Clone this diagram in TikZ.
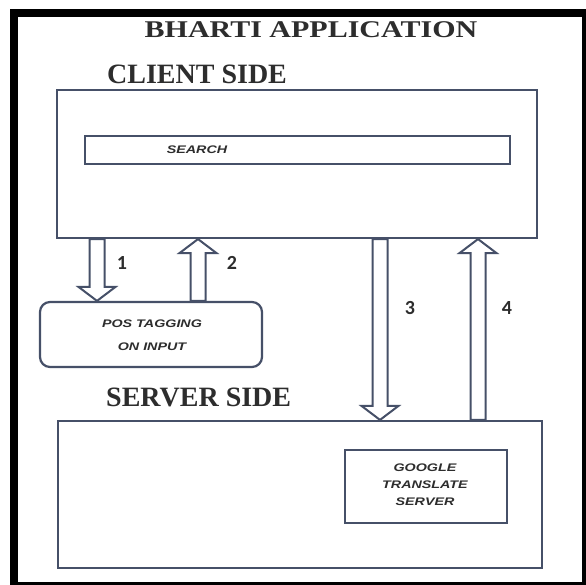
\documentclass[tikz,border=0pt]{standalone}
\usepackage{fontspec}
\setmainfont{Liberation Serif}
\newfontfamily\tagfont[FakeStretch=1.3]{Liberation Sans}
\newfontfamily\titlefont[FakeStretch=1.25]{Liberation Serif}
\newfontfamily\numfont{Carlito}
\usepackage{xcolor}
\usepackage{tikz}
\usetikzlibrary{positioning, calc}

\definecolor{boxline}{RGB}{70,80,104}
\definecolor{inkgray}{RGB}{45,45,45}

\tikzset{
  panel/.style={draw=boxline, line width=2.2pt, fill=white, inner sep=0pt},
  heading/.style={text=inkgray, font=\bfseries\fontsize{28}{30}\selectfont, anchor=base west, inner sep=0pt},
  tagtext/.style={text=inkgray, font=\tagfont\bfseries\itshape\fontsize{11}{17}\selectfont, align=center, inner sep=0pt},
  steplabel/.style={text=inkgray, font=\numfont\bfseries\fontsize{20}{20}\selectfont, inner sep=0pt},
  hollow/.style={draw=boxline, line width=2pt, fill=white, line join=miter},
}

% hollow block arrow from #1 to #2 (vertical)
\newcommand{\flowarrow}[2]{%
  \draw[hollow] let \p1=#1, \p2=#2, \n1={sign(\y2-\y1)*14} in
    (\x1-7.5pt,\y1) -- (\x1-7.5pt,\y2-\n1*1pt) -- (\x1-18.5pt,\y2-\n1*1pt)
    -- (\x1,\y2) -- (\x1+18.5pt,\y2-\n1*1pt) -- (\x1+7.5pt,\y2-\n1*1pt)
    -- (\x1+7.5pt,\y1) -- cycle;}

\begin{document}
\begin{tikzpicture}[x=1pt, y=-1pt]
				% frame
				\useasboundingbox (0,0) rectangle (586,585);
				\fill[black] (10,9) rectangle (586,585);
				\fill[white] (18,17) rectangle (582,582);
				
				% headings
				\node[text=inkgray, font=\titlefont\bfseries\fontsize{24}{26}\selectfont, inner sep=0pt] (title) at (311,30) {BHARTI APPLICATION};
				\node[heading] (clienthead) at (107,84) {CLIENT SIDE};
				\node[heading] (serverhead) at (106,406) {SERVER SIDE};
				
				% client side
				\node[panel, minimum width=480pt, minimum height=148pt] (client) at (297,164) {};
				\node[panel, line width=2.5pt, minimum width=425pt, minimum height=28pt] (search) at (297.5,150) {};
				\node[tagtext] (searchtxt) at (197,150) {SEARCH};
				
				\node[panel, rounded corners=10pt, minimum width=222pt, minimum height=65pt] (pos) at (151,334.5) {};
				\node[tagtext] (postxt) at (152,335) {POS TAGGING\\[6pt]ON INPUT};
				
				% server side
				\node[panel, minimum width=484pt, minimum height=147pt] (server) at (300,494.5) {};
				\node[panel, minimum width=162pt, minimum height=73pt] (google) at (426,486.5) {};
				\node[tagtext] (googletxt) at (425,485) {GOOGLE\\TRANSLATE\\SERVER};
				
				% arrows
				\coordinate (a1) at (97,0);
				\coordinate (a2) at (198,0);
				\coordinate (a3) at (380,0);
				\coordinate (a4) at (478,0);
				\flowarrow{(a1 |- client.south)}{(a1 |- pos.north)}
				\flowarrow{(a2 |- pos.north)}{(a2 |- client.south)}
				\flowarrow{(a3 |- client.south)}{(a3 |- server.north)}
				\flowarrow{(a4 |- server.north)}{(a4 |- client.south)}
				
				\node[steplabel] (n1) at (122,263) {1};
				\node[steplabel] (n2) at (232,263) {2};
				\node[steplabel] (n3) at (410,308) {3};
				\node[steplabel] (n4) at (507,308) {4};
\end{tikzpicture}
\end{document}
